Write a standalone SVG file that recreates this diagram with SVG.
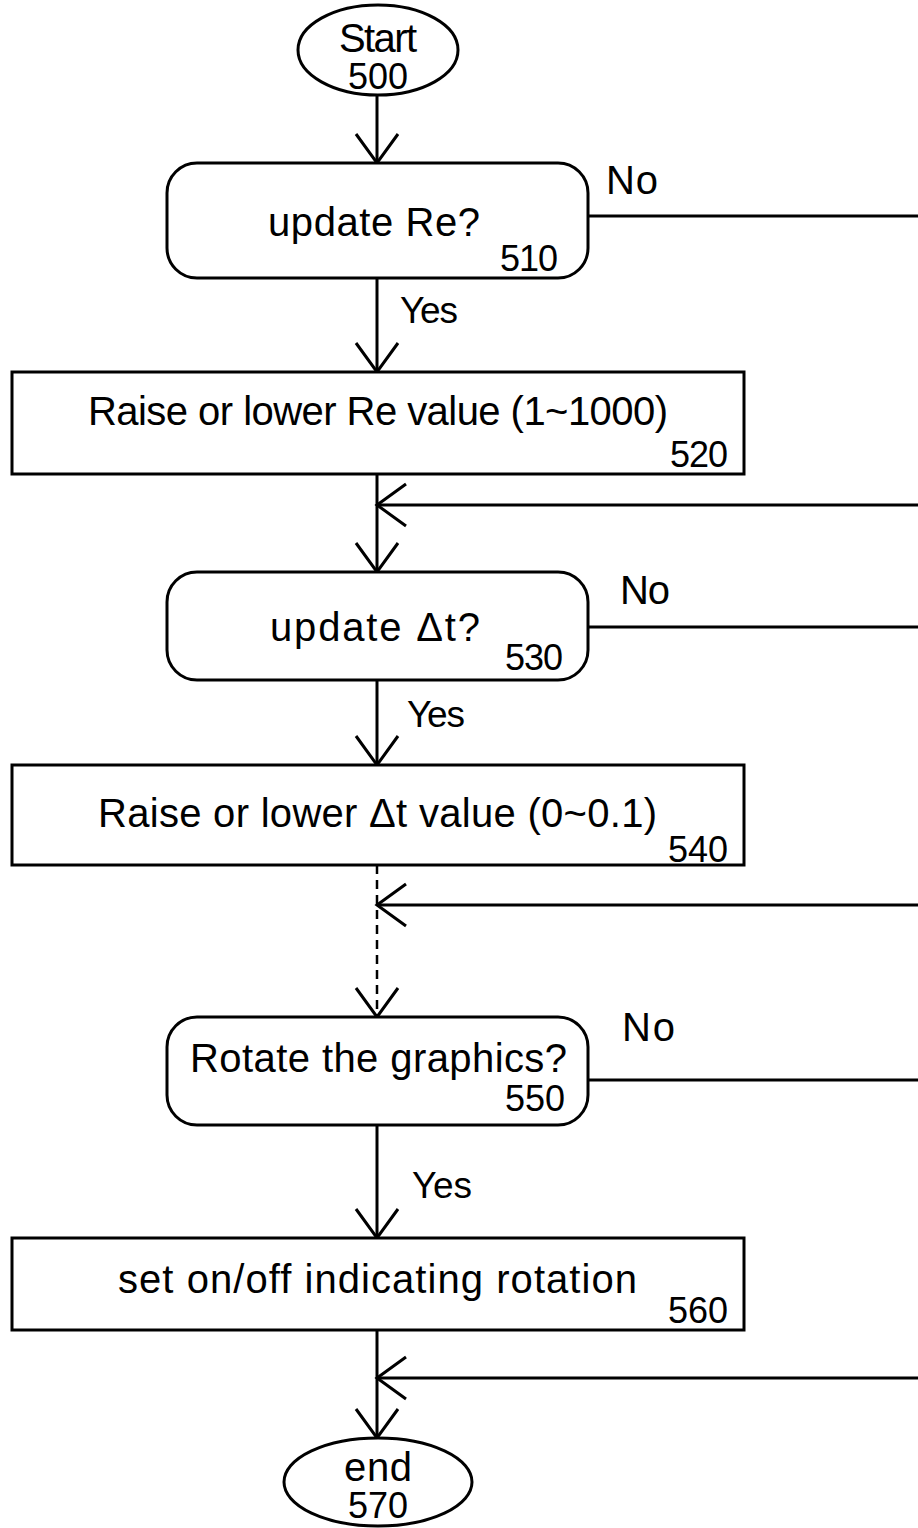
<svg xmlns="http://www.w3.org/2000/svg" width="918" height="1528" viewBox="0 0 918 1528">
<style>
.shape{fill:#fff;stroke:#000;stroke-width:3}
.ln{fill:none;stroke:#000;stroke-width:3}
.dash{fill:none;stroke:#000;stroke-width:2.5;stroke-dasharray:9 6}
text{font-family:"Liberation Sans",Arial,sans-serif;fill:#000}
.lbl{font-size:40px}
.yes{font-size:37px}
.num{font-size:36px}
.mid{text-anchor:middle}
</style>
<defs>
<marker id="v" markerUnits="userSpaceOnUse" viewBox="-32 -24 36 48" refX="0" refY="0" markerWidth="36" markerHeight="48" orient="auto" overflow="visible">
<path d="M-29,-21 L0,0 L-29,21" fill="none" stroke="#000" stroke-width="3"/>
</marker>
</defs>
<rect width="918" height="1528" fill="#fff"/>
<g id="connectors">
<line class="ln" x1="377" y1="95" x2="377" y2="163" marker-end="url(#v)"/>
<line class="ln" x1="588" y1="216" x2="918" y2="216"/>
<line class="ln" x1="377" y1="278" x2="377" y2="372" marker-end="url(#v)"/>
<line class="ln" x1="377" y1="474" x2="377" y2="572" marker-end="url(#v)"/>
<line class="ln" x1="918" y1="505" x2="377" y2="505" marker-end="url(#v)"/>
<line class="ln" x1="588" y1="627" x2="918" y2="627"/>
<line class="ln" x1="377" y1="680" x2="377" y2="765" marker-end="url(#v)"/>
<line class="dash" x1="377" y1="865" x2="377" y2="1017" marker-end="url(#v)"/>
<line class="ln" x1="918" y1="905" x2="377" y2="905" marker-end="url(#v)"/>
<line class="ln" x1="588" y1="1080" x2="918" y2="1080"/>
<line class="ln" x1="377" y1="1125" x2="377" y2="1238" marker-end="url(#v)"/>
<line class="ln" x1="377" y1="1330" x2="377" y2="1438" marker-end="url(#v)"/>
<line class="ln" x1="918" y1="1378" x2="377" y2="1378" marker-end="url(#v)"/>
<text class="lbl" x="606" y="194" textLength="52">No</text>
<text class="yes" x="400" y="323" textLength="58">Yes</text>
<text class="lbl" x="620" y="604" textLength="50">No</text>
<text class="yes" x="407" y="727" textLength="58">Yes</text>
<text class="lbl" x="622" y="1041" textLength="53">No</text>
<text class="yes" x="412" y="1198" textLength="60">Yes</text>
</g>
<g id="n500">
<ellipse class="shape" cx="378" cy="50" rx="80" ry="45"/>
<text class="lbl mid" x="378" y="52" textLength="78">Start</text>
<text class="num mid" x="378" y="89" textLength="60">500</text>
</g>
<g id="n510">
<rect class="shape" x="167" y="163" width="421" height="115" rx="30" ry="30"/>
<text class="lbl" x="268" y="236" textLength="212">update Re?</text>
<text class="num" x="500" y="271" textLength="58">510</text>
</g>
<g id="n520">
<rect class="shape" x="12" y="372" width="732" height="102"/>
<text class="lbl" x="88" y="425" textLength="580">Raise or lower Re value (1~1000)</text>
<text class="num" x="670" y="467" textLength="58">520</text>
</g>
<g id="n530">
<rect class="shape" x="167" y="572" width="421" height="108" rx="30" ry="30"/>
<text class="lbl" x="270" y="641" textLength="210">update  Δt?</text>
<text class="num" x="505" y="670" textLength="58">530</text>
</g>
<g id="n540">
<rect class="shape" x="12" y="765" width="732" height="100"/>
<text class="lbl" x="98" y="827" textLength="559">Raise or lower Δt value (0~0.1)</text>
<text class="num" x="668" y="862" textLength="60">540</text>
</g>
<g id="n550">
<rect class="shape" x="167" y="1017" width="421" height="108" rx="30" ry="30"/>
<text class="lbl" x="190" y="1072" textLength="377">Rotate the graphics?</text>
<text class="num" x="505" y="1111" textLength="60">550</text>
</g>
<g id="n560">
<rect class="shape" x="12" y="1238" width="732" height="92"/>
<text class="lbl" x="118" y="1293" textLength="519">set on/off indicating rotation</text>
<text class="num" x="668" y="1323" textLength="60">560</text>
</g>
<g id="n570">
<ellipse class="shape" cx="378" cy="1482" rx="94" ry="44"/>
<text class="lbl mid" x="378" y="1481" textLength="68">end</text>
<text class="num mid" x="378" y="1518" textLength="60">570</text>
</g>
</svg>
